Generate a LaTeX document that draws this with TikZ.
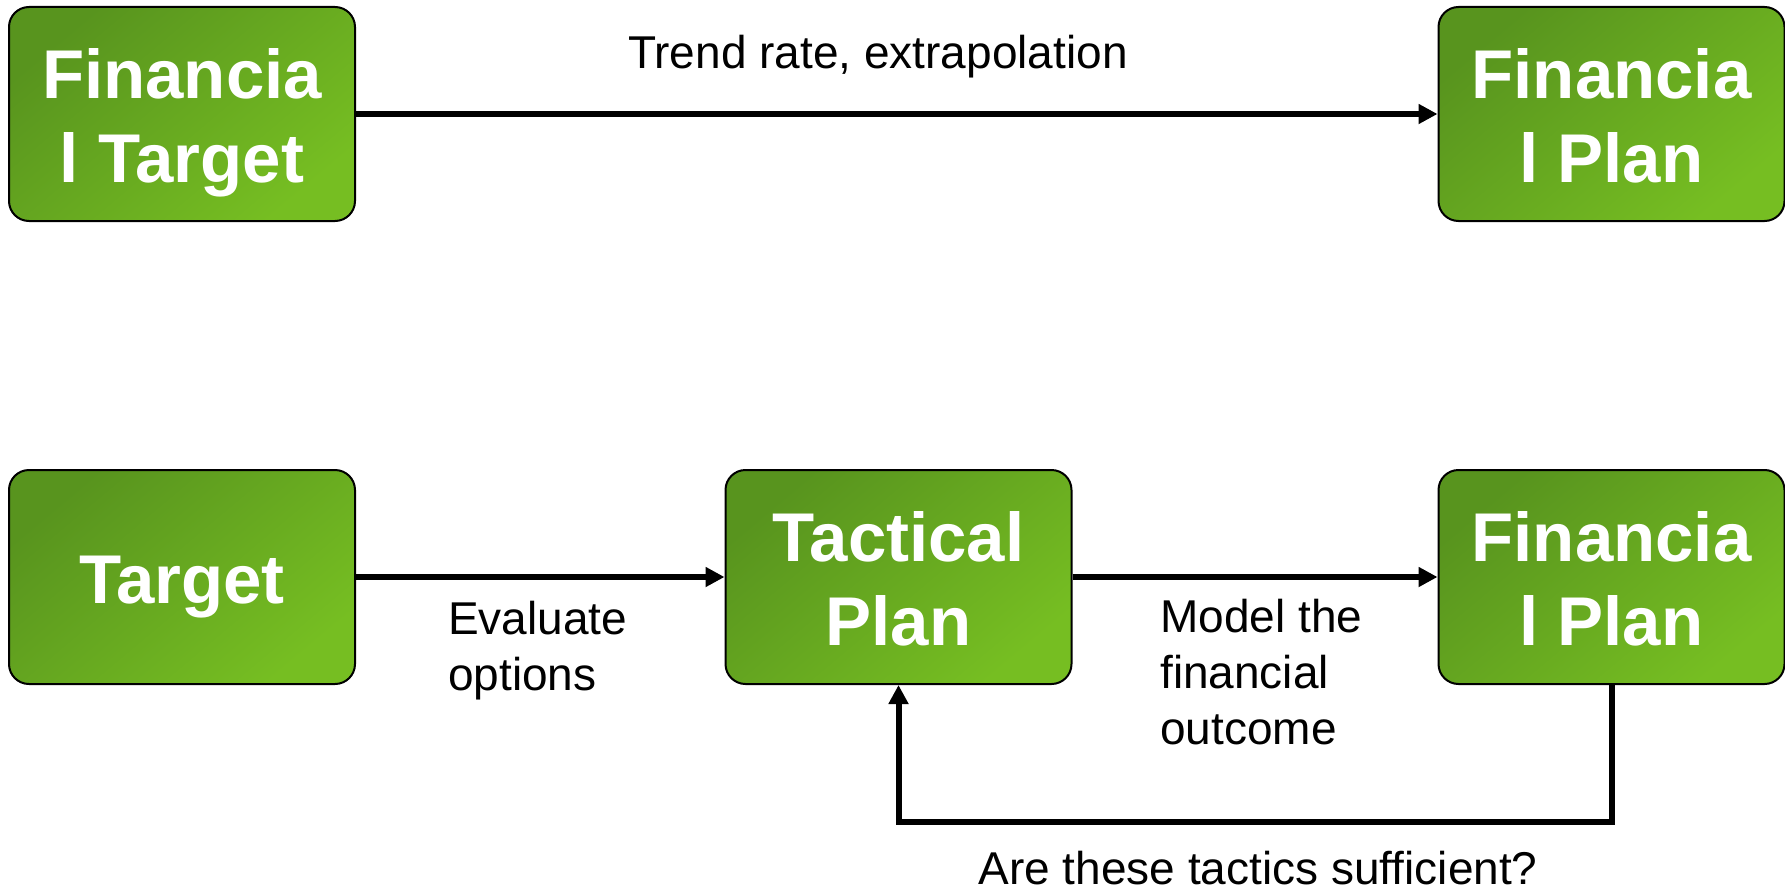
\documentclass[tikz,border=0pt]{standalone}
\usepackage{fontspec}
\setmainfont{Liberation Sans}
\usepackage{tikz}
\usepackage{xcolor}
\usetikzlibrary{arrows.meta, positioning, calc}

\definecolor{gdark}{RGB}{88,148,30}
\definecolor{glight}{RGB}{118,190,34}

\begin{document}
\begin{tikzpicture}[x=1pt, y=1pt,
        box/.style={draw=black, line width=2pt, rounded corners=20pt,
            top color=gdark, bottom color=glight, shading angle=40,
            minimum width=346pt, minimum height=214pt, inner sep=0pt,
            align=center, text=white, font=\fontsize{69}{84}\selectfont\bfseries,
            text height=68pt, text depth=16pt},
        twoline/.style={text height=152pt},
        lbl/.style={inner sep=0pt, align=left, font=\fontsize{46}{56}\selectfont},
        arr/.style={line width=6pt, -{Triangle[length=19pt, width=19pt]}}]
    \useasboundingbox (0,0) rectangle (1785,-891);

    % boxes
    \node[box, twoline] (ftarget) at (182,-114) {Financia\\l Target};
    \node[box, twoline] (fplan1) at (1611.5,-114) {Financia\\l Plan};
    \node[box] (target) at (182,-577) {Target};
    \node[box, twoline] (tactical) at (898.5,-577) {Tactical\\Plan};
    \node[box, twoline] (fplan2) at (1611.5,-577) {Financia\\l Plan};

    % labels (base = last line)
    \node[lbl, anchor=base] (trend) at (878,-68) {Trend rate, extrapolation};
    \node[lbl, anchor=base west] (evaluate) at (448,-690) {Evaluate\\options};
    \node[lbl, anchor=base west] (model) at (1160,-744) {Model the\\financial\\outcome};
    \node[lbl, anchor=base] (sufficient) at (1258,-884) {Are these tactics sufficient?};

    \draw[arr] (ftarget) -- (fplan1);
    \draw[arr] (target) -- (tactical);
    \draw[arr] (tactical) -- (fplan2);
    \draw[arr] (fplan2.south) -- ++(0,-136.5) -| (tactical.south);
\end{tikzpicture}
\end{document}
